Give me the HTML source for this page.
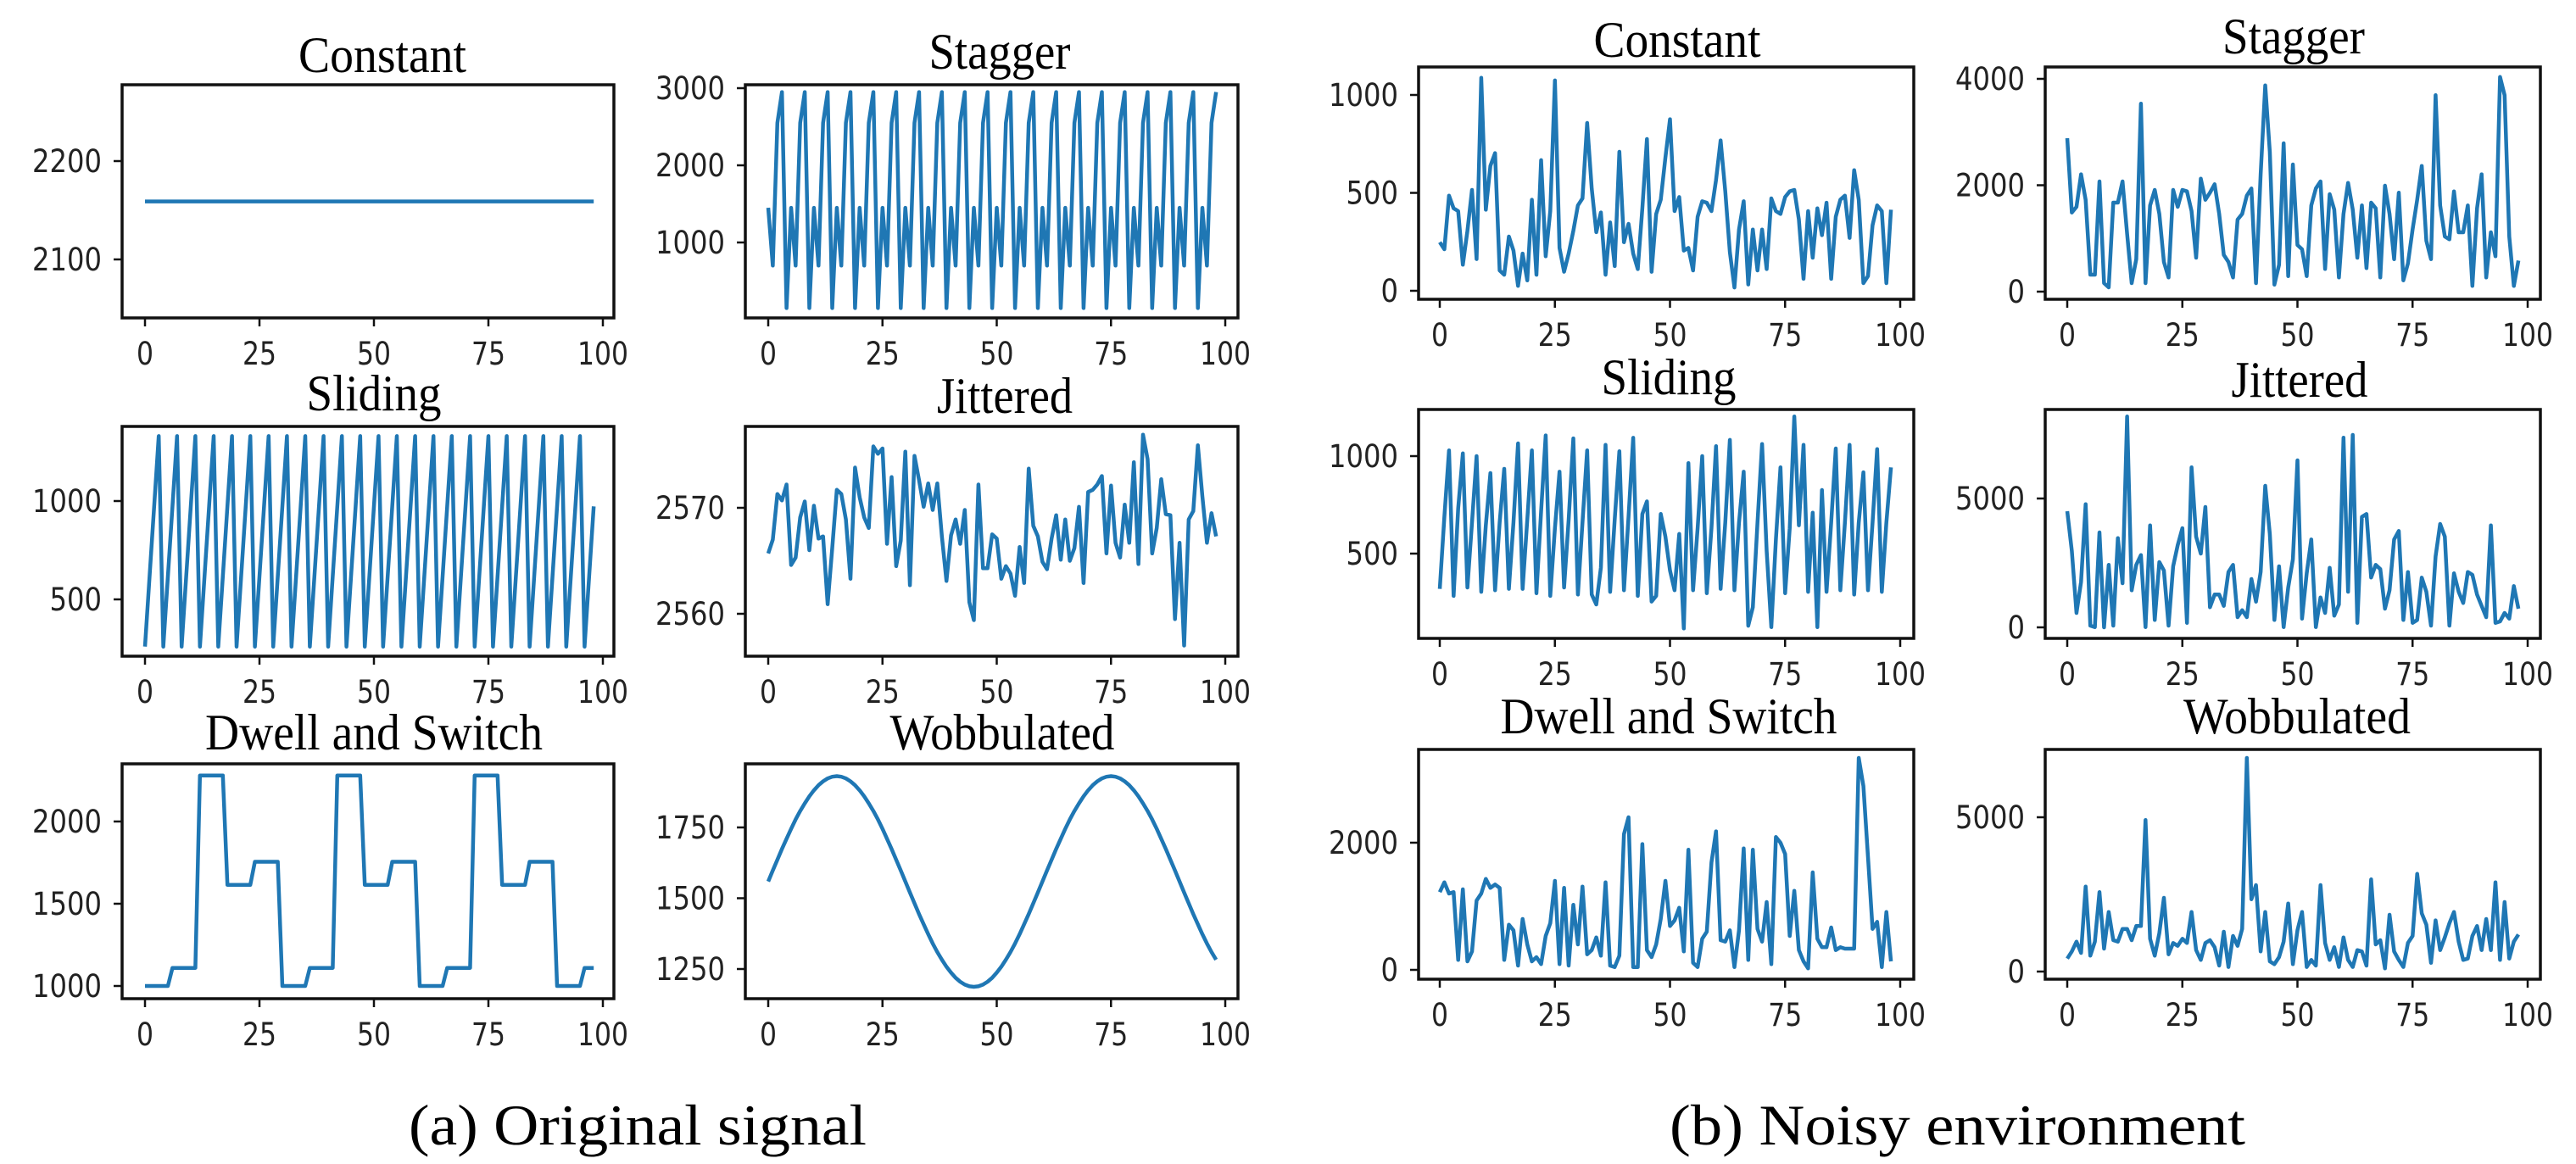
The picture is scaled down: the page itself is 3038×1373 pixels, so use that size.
<!DOCTYPE html>
<html><head><meta charset="utf-8"><style>
html,body{margin:0;padding:0;background:#fff;}
svg{display:block;}
</style></head><body>
<svg id="fig" width="3038" height="1373" viewBox="0 0 3038 1373" xmlns="http://www.w3.org/2000/svg">
<rect x="0" y="0" width="3038" height="1373" fill="#fff"/>
<text x="482" y="1350" font-family="Liberation Serif, serif" font-size="68" textLength="540" lengthAdjust="spacingAndGlyphs">(a) Original signal</text>
<text x="1969" y="1350" font-family="Liberation Serif, serif" font-size="68" textLength="679" lengthAdjust="spacingAndGlyphs">(b) Noisy environment</text>
<g id="plots"></g>
</svg>
<script>
const xTicks = [0, 25, 50, 75, 100];

const aConstant = Array(99).fill(2159);
const aStagger = [1450,700,2550,2950,150,1450,700,2550,2950,150,1450,700,2550,2950,150,1450,700,2550,2950,150,1450,700,2550,2950,150,1450,700,2550,2950,150,1450,700,2550,2950,150,1450,700,2550,2950,150,1450,700,2550,2950,150,1450,700,2550,2950,150,1450,700,2550,2950,150,1450,700,2550,2950,150,1450,700,2550,2950,150,1450,700,2550,2950,150,1450,700,2550,2950,150,1450,700,2550,2950,150,1450,700,2550,2950,150,1450,700,2550,2950,150,1450,700,2550,2950,150,1450,700,2550,2950];
const aSliding = [260,617,973,1330,260,617,973,1330,260,617,973,1330,260,617,973,1330,260,617,973,1330,260,617,973,1330,260,617,973,1330,260,617,973,1330,260,617,973,1330,260,617,973,1330,260,617,973,1330,260,617,973,1330,260,617,973,1330,260,617,973,1330,260,617,973,1330,260,617,973,1330,260,617,973,1330,260,617,973,1330,260,617,973,1330,260,617,973,1330,260,617,973,1330,260,617,973,1330,260,617,973,1330,260,617,973,1330,260,617,973];
const aJittered = [2565.7,2567,2571.3,2570.7,2572.2,2564.6,2565.3,2569.1,2570.6,2566,2570.2,2567.1,2567.3,2560.9,2566.2,2571.7,2571.3,2568.9,2563.3,2573.8,2571,2569.1,2568.1,2575.8,2575.1,2575.6,2566.6,2572.9,2564.5,2566.9,2575.3,2562.7,2574.9,2572.6,2570.1,2572.3,2569.8,2572.3,2567.3,2563.1,2567.4,2568.9,2566.6,2569.8,2561.1,2559.4,2572.2,2564.3,2564.3,2567.5,2567.1,2563.3,2564.5,2563.8,2561.7,2566.3,2562.9,2573.7,2568.3,2567.3,2564.9,2564.2,2567.1,2569.3,2565.1,2568.9,2565,2566.2,2570.1,2562.9,2571.5,2571.7,2572.2,2573,2565.7,2572.1,2566.7,2565.3,2570.3,2566.7,2574.3,2564.7,2576.9,2574.6,2565.7,2568.1,2572.7,2569.4,2569.3,2559.5,2566.7,2557,2568.9,2569.7,2575.9,2571.1,2566.7,2569.5,2567.3];
const aDwell = [1000,1000,1000,1000,1000,1000,1110,1110,1110,1110,1110,1110,2280,2280,2280,2280,2280,2280,1615,1615,1615,1615,1615,1615,1755,1755,1755,1755,1755,1755,1000,1000,1000,1000,1000,1000,1110,1110,1110,1110,1110,1110,2280,2280,2280,2280,2280,2280,1615,1615,1615,1615,1615,1615,1755,1755,1755,1755,1755,1755,1000,1000,1000,1000,1000,1000,1110,1110,1110,1110,1110,1110,2280,2280,2280,2280,2280,2280,1615,1615,1615,1615,1615,1615,1755,1755,1755,1755,1755,1755,1000,1000,1000,1000,1000,1000,1110,1110,1110];
const aWobbulated = [1559,1598,1636,1674,1710,1745,1778,1808,1835,1860,1881,1899,1913,1923,1929,1931,1929,1923,1913,1899,1881,1860,1835,1808,1778,1745,1710,1674,1636,1598,1559,1520,1482,1444,1408,1373,1340,1310,1283,1258,1237,1219,1205,1195,1189,1187,1189,1195,1205,1219,1237,1258,1283,1310,1340,1373,1408,1444,1482,1520,1559,1598,1636,1674,1710,1745,1778,1808,1835,1860,1881,1899,1913,1923,1929,1931,1929,1923,1913,1899,1881,1860,1835,1808,1778,1745,1710,1674,1636,1598,1559,1520,1482,1444,1408,1373,1340,1310,1283];

const bConstant = [248,212,486,421,407,133,306,515,162,1088,414,638,703,104,82,277,205,25,190,53,465,82,667,176,407,1074,219,97,190,306,436,472,857,522,299,400,82,349,126,710,248,342,190,111,421,775,97,392,465,681,876,407,479,205,219,104,378,457,450,407,566,768,508,198,17,313,457,32,313,104,313,111,472,407,392,479,508,515,364,61,407,169,421,284,450,61,378,465,486,270,616,465,39,75,335,436,407,39,414];
const bStagger = [2885,1487,1594,2205,1726,319,319,2072,159,80,1673,1673,2072,1089,159,611,3533,159,1620,1912,1461,558,266,1912,1594,1912,1886,1514,637,2125,1726,1859,2019,1461,691,558,266,1355,1461,1806,1939,159,2205,3878,2630,133,505,2789,292,2390,876,797,292,1620,1939,2072,425,1833,1541,266,1461,2045,1541,637,1620,441,1673,1567,266,1992,1461,611,1859,212,531,1169,1726,2364,956,611,3692,1620,1036,983,1886,1116,1116,1620,106,1567,2205,266,1116,664,4037,3692,1036,106,584];
const bSliding = [319,688,1029,283,732,1014,326,659,1000,304,645,913,312,659,935,319,659,1065,319,674,1029,297,717,1106,283,630,920,326,674,1091,290,659,1029,290,239,428,1058,304,674,1025,312,688,1094,283,703,768,254,283,703,587,413,312,601,116,964,312,630,1000,297,630,1051,319,659,1083,312,659,920,130,225,659,1062,514,123,572,942,297,630,1203,645,1058,304,710,123,826,304,659,1039,312,659,1058,290,659,917,312,659,1036,304,659,942];
const bJittered = [4507,2971,559,1765,4781,66,11,3684,0,2423,66,3465,1711,8180,1436,2423,2807,11,3958,285,2533,2204,66,2368,3191,3849,175,6206,3520,2862,4671,779,1272,1272,833,2149,2423,395,669,395,1875,998,2149,5493,3629,285,2368,11,1546,2643,6480,340,2094,3410,11,1162,559,2314,450,888,7357,1382,7467,175,4287,4397,1930,2423,2259,724,1436,3410,3739,285,2149,175,285,1930,1382,66,2752,4013,3520,66,2094,1382,943,2149,2039,1272,833,395,3958,175,230,559,340,1601,724];
const bDwell = [1222,1378,1200,1222,156,1267,133,289,1089,1200,1431,1289,1342,1289,156,711,622,67,800,400,133,200,89,533,733,1400,89,1289,67,1022,400,1311,244,311,511,222,1378,67,44,222,2133,2400,44,44,1978,311,200,400,800,1400,689,778,978,289,1889,111,44,489,600,1689,2178,467,444,622,44,622,1911,156,1889,644,444,1067,89,2089,2000,1822,533,1244,311,133,22,1533,489,356,356,667,311,356,333,333,333,3333,2889,1778,644,756,44,911,133];
const bWobbulated = [421,650,971,604,2756,513,971,2573,742,1932,1016,971,1383,1383,1016,1474,1474,4908,1062,513,1245,2390,559,925,833,1062,925,1932,696,375,925,1016,788,192,1291,147,1154,833,1383,6923,2344,2802,650,1932,330,238,467,971,2207,238,1337,1932,147,375,192,2802,925,375,788,147,1108,375,147,696,650,192,2985,879,1016,101,1841,650,375,147,925,1154,3168,1886,1520,284,1658,696,1108,1566,1932,971,375,421,1154,1474,696,1703,696,2894,375,2253,421,971,1200];

const aConstantTicks = [2100, 2200];
const aStaggerTicks = [1000, 2000, 3000];
const aSlidingTicks = [500, 1000];
const aJitteredTicks = [2560, 2570];
const aDwellTicks = [1000, 1500, 2000];
const aWobTicks = [1250, 1500, 1750];
const bConstantTicks = [0, 500, 1000];
const bStaggerTicks = [0, 2000, 4000];
const bSlidingTicks = [500, 1000];
const bJitteredTicks = [0, 5000];
const bDwellTicks = [0, 2000];
const bWobTicks = [0, 5000];

const NS = 'http://www.w3.org/2000/svg';
const root = document.getElementById('plots');
function mk(tag, attrs, parent) {
  const e = document.createElementNS(NS, tag);
  for (const k in attrs) e.setAttribute(k, attrs[k]);
  parent.appendChild(e);
  return e;
}
const panels = [
  {id:'a-constant', title:'Constant', data:aConstant, ticks:aConstantTicks, L:144,R:724,T:100,B:375, x0:171,x100:711, v1:2200,p1:190,v2:2100,p2:306, tx:451,ty:85,tw:198},
  {id:'a-stagger', title:'Stagger', data:aStagger, ticks:aStaggerTicks, L:879,R:1460,T:100,B:375, x0:906,x100:1445, v1:3000,p1:104,v2:1000,p2:286, tx:1179,ty:81,tw:167},
  {id:'a-sliding', title:'Sliding', data:aSliding, ticks:aSlidingTicks, L:144,R:724,T:503,B:774, x0:171,x100:711, v1:1000,p1:591,v2:500,p2:707, tx:441,ty:484,tw:159},
  {id:'a-jittered', title:'Jittered', data:aJittered, ticks:aJitteredTicks, L:879,R:1460,T:503,B:774, x0:906,x100:1445, v1:2570,p1:599,v2:2560,p2:724, tx:1185,ty:487,tw:160},
  {id:'a-dwell', title:'Dwell and Switch', data:aDwell, ticks:aDwellTicks, L:144,R:724,T:901,B:1178, x0:171,x100:711, v1:2000,p1:969,v2:1000,p2:1163, tx:441,ty:884,tw:398},
  {id:'a-wobbulated', title:'Wobbulated', data:aWobbulated, ticks:aWobTicks, L:879,R:1460,T:901,B:1178, x0:906,x100:1445, v1:1750,p1:976,v2:1250,p2:1143, tx:1182,ty:884,tw:265},
  {id:'b-constant', title:'Constant', data:bConstant, ticks:bConstantTicks, L:1673,R:2257,T:79,B:353, x0:1698,x100:2241, v1:1000,p1:112,v2:0,p2:343, tx:1978,ty:67,tw:197},
  {id:'b-stagger', title:'Stagger', data:bStagger, ticks:bStaggerTicks, L:2412,R:2996,T:79,B:353, x0:2438,x100:2981, v1:4000,p1:93,v2:0,p2:344, tx:2705,ty:63,tw:168},
  {id:'b-sliding', title:'Sliding', data:bSliding, ticks:bSlidingTicks, L:1673,R:2257,T:483,B:753, x0:1698,x100:2241, v1:1000,p1:538,v2:500,p2:653, tx:1968,ty:465,tw:159},
  {id:'b-jittered', title:'Jittered', data:bJittered, ticks:bJitteredTicks, L:2412,R:2996,T:483,B:753, x0:2438,x100:2981, v1:5000,p1:588,v2:0,p2:740, tx:2712,ty:468,tw:161},
  {id:'b-dwell', title:'Dwell and Switch', data:bDwell, ticks:bDwellTicks, L:1673,R:2257,T:884,B:1155, x0:1698,x100:2241, v1:2000,p1:994,v2:0,p2:1144, tx:1968,ty:865,tw:397},
  {id:'b-wobbulated', title:'Wobbulated', data:bWobbulated, ticks:bWobTicks, L:2412,R:2996,T:884,B:1155, x0:2438,x100:2981, v1:5000,p1:964,v2:0,p2:1146, tx:2709,ty:865,tw:268}
];
panels.forEach(p => {
  const g = mk('g', {}, root);
  
  
  const xs = v => p.x0 + (p.x100 - p.x0) * v / 100;
  const ys = v => p.p2 + (p.p1 - p.p2) * (v - p.v2) / (p.v1 - p.v2);
  const t = mk('text', {x:p.tx, y:p.ty, 'text-anchor':'middle', 'font-family':'Liberation Serif, serif', 'font-size':60, textLength:p.tw, lengthAdjust:'spacingAndGlyphs'}, g);
  
  
  t.textContent = p.title;
  const pts = p.data.map((v, i) => xs(i).toFixed(1) + ',' + ys(v).toFixed(1)).join(' ');
  const line = mk('polyline', {points:pts, fill:'none', stroke:'#1f77b4', 'stroke-width':4.5, 'stroke-linejoin':'round'}, g);
  
  
  const box = mk('rect', {x:p.L, y:p.T, width:p.R - p.L, height:p.B - p.T, fill:'none', stroke:'#111', 'stroke-width':3.5}, g);
  
  
  xTicks.forEach(v => {
    const x = xs(v);
    mk('line', {x1:x, x2:x, y1:p.B, y2:p.B + 10, stroke:'#111', 'stroke-width':2.5}, g);
    const s = String(v);
    const tl = mk('text', {x:x, y:p.B + 55, 'text-anchor':'middle', 'font-family':'DejaVu Sans, sans-serif', 'font-size':37, textLength:s.length * 20, lengthAdjust:'spacingAndGlyphs', fill:'#222'}, g);
    
    
    tl.textContent = s;
  });
  p.ticks.forEach(v => {
    const y = ys(v);
    mk('line', {x1:p.L - 10, x2:p.L, y1:y, y2:y, stroke:'#111', 'stroke-width':2.5}, g);
    const s = String(v);
    const tl = mk('text', {x:p.L - 24, y:y + 13, 'text-anchor':'end', 'font-family':'DejaVu Sans, sans-serif', 'font-size':37, textLength:s.length * 20.5, lengthAdjust:'spacingAndGlyphs', fill:'#222'}, g);
    
    
    tl.textContent = s;
  });
});
</script>
</body></html>
